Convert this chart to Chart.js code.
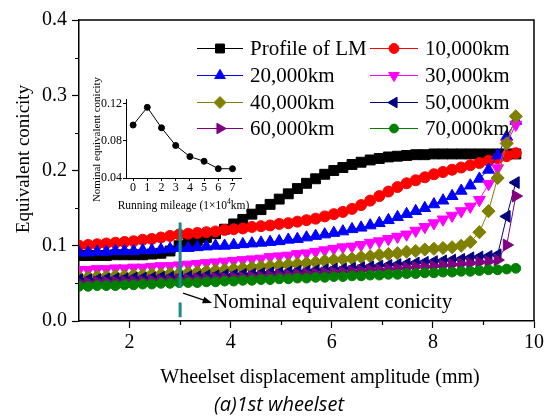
<!DOCTYPE html>
<html>
<head>
<meta charset="utf-8">
<script src="https://cdn.jsdelivr.net/npm/chart.js@4.4.1/dist/chart.umd.min.js"></script>
<style>
  html, body { margin: 0; padding: 0; background: #fff; }
  #wrap { position: relative; width: 547px; height: 416px; }
  #main { position: absolute; left: 0; top: 0; }
  #inset { position: absolute; left: 84px; top: 72px; }
</style>
</head>
<body>
<div id="wrap">
  <canvas id="main" width="547" height="416"></canvas>
  <canvas id="inset" width="166" height="143"></canvas>
</div>
<script>
// wheelset displacement amplitude (mm)
const displacement = [1.00, 1.18, 1.36, 1.54, 1.72, 1.90, 2.08, 2.26, 2.44, 2.62,
  2.80, 2.98, 3.16, 3.34, 3.52, 3.70, 3.88, 4.06, 4.24, 4.42,
  4.60, 4.78, 4.96, 5.14, 5.32, 5.50, 5.68, 5.86, 6.04, 6.22,
  6.40, 6.58, 6.76, 6.94, 7.12, 7.30, 7.48, 7.66, 7.84, 8.02,
  8.20, 8.38, 8.56, 8.74, 8.92, 9.10, 9.28, 9.46, 9.64];

const profileLM = [0.087, 0.087, 0.087, 0.087, 0.088, 0.088, 0.088, 0.088, 0.089, 0.090,
  0.093, 0.100, 0.104, 0.107, 0.111, 0.116, 0.122, 0.129, 0.135, 0.142,
  0.148, 0.155, 0.162, 0.169, 0.176, 0.183, 0.189, 0.195, 0.200, 0.204,
  0.208, 0.211, 0.214, 0.216, 0.218, 0.219, 0.220, 0.221, 0.221, 0.222,
  0.222, 0.222, 0.222, 0.222, 0.222, 0.222, 0.222, 0.222, 0.222];
const km10000 = [0.100, 0.101, 0.102, 0.103, 0.104, 0.105, 0.106, 0.108, 0.109, 0.111,
  0.113, 0.115, 0.116, 0.117, 0.118, 0.119, 0.121, 0.122, 0.123, 0.125,
  0.126, 0.127, 0.129, 0.130, 0.132, 0.134, 0.136, 0.139, 0.142, 0.145,
  0.149, 0.154, 0.160, 0.166, 0.172, 0.178, 0.183, 0.187, 0.191, 0.195,
  0.198, 0.201, 0.204, 0.207, 0.210, 0.213, 0.216, 0.219, 0.223];
const km20000 = [0.091, 0.091, 0.092, 0.092, 0.093, 0.093, 0.093, 0.094, 0.094, 0.095,
  0.096, 0.097, 0.097, 0.098, 0.099, 0.100, 0.100, 0.101, 0.102, 0.103,
  0.104, 0.105, 0.106, 0.108, 0.109, 0.111, 0.113, 0.115, 0.117, 0.119,
  0.122, 0.124, 0.127, 0.130, 0.134, 0.138, 0.142, 0.146, 0.150, 0.155,
  0.160, 0.166, 0.173, 0.180, 0.189, 0.201, 0.220, 0.245, 0.266];
const km30000 = [0.068, 0.068, 0.069, 0.069, 0.070, 0.070, 0.071, 0.071, 0.072, 0.073,
  0.073, 0.074, 0.075, 0.076, 0.077, 0.078, 0.079, 0.080, 0.081, 0.082,
  0.083, 0.085, 0.086, 0.087, 0.089, 0.090, 0.092, 0.094, 0.096, 0.098,
  0.099, 0.101, 0.104, 0.106, 0.109, 0.112, 0.115, 0.120, 0.125, 0.130,
  0.135, 0.140, 0.146, 0.152, 0.161, 0.182, 0.203, 0.236, 0.261];
const km40000 = [0.058, 0.058, 0.059, 0.059, 0.060, 0.060, 0.061, 0.061, 0.062, 0.062,
  0.063, 0.063, 0.064, 0.065, 0.066, 0.067, 0.068, 0.069, 0.070, 0.071,
  0.072, 0.073, 0.074, 0.075, 0.076, 0.077, 0.078, 0.080, 0.081, 0.082,
  0.083, 0.085, 0.086, 0.088, 0.089, 0.090, 0.092, 0.093, 0.095, 0.096,
  0.097, 0.098, 0.100, 0.105, 0.118, 0.146, 0.190, 0.236, 0.272];
const km50000 = [0.055, 0.055, 0.055, 0.056, 0.056, 0.056, 0.057, 0.057, 0.057, 0.058,
  0.058, 0.058, 0.059, 0.059, 0.060, 0.060, 0.061, 0.061, 0.062, 0.062,
  0.063, 0.064, 0.064, 0.065, 0.066, 0.066, 0.067, 0.068, 0.069, 0.069,
  0.070, 0.071, 0.072, 0.073, 0.074, 0.075, 0.076, 0.077, 0.078, 0.079,
  0.080, 0.081, 0.082, 0.084, 0.085, 0.086, 0.088, 0.139, 0.184];
const km60000 = [0.051, 0.051, 0.052, 0.052, 0.052, 0.053, 0.053, 0.053, 0.054, 0.054,
  0.054, 0.055, 0.055, 0.056, 0.056, 0.057, 0.057, 0.058, 0.058, 0.059,
  0.059, 0.060, 0.061, 0.061, 0.062, 0.063, 0.063, 0.064, 0.065, 0.065,
  0.066, 0.067, 0.068, 0.068, 0.069, 0.070, 0.071, 0.072, 0.072, 0.073,
  0.074, 0.075, 0.076, 0.077, 0.078, 0.079, 0.081, 0.101, 0.166];
const km70000 = [0.046, 0.046, 0.047, 0.047, 0.047, 0.048, 0.048, 0.049, 0.049, 0.050,
  0.050, 0.051, 0.051, 0.051, 0.052, 0.052, 0.053, 0.053, 0.054, 0.054,
  0.055, 0.055, 0.056, 0.056, 0.057, 0.057, 0.058, 0.058, 0.059, 0.059,
  0.060, 0.060, 0.061, 0.061, 0.062, 0.062, 0.063, 0.063, 0.064, 0.064,
  0.065, 0.065, 0.066, 0.066, 0.067, 0.068, 0.068, 0.069, 0.070];

const seriesNames = ['Profile of LM', '10,000km', '20,000km', '30,000km',
  '40,000km', '50,000km', '60,000km', '70,000km'];

const xTicks = [2, 4, 6, 8, 10];
const xMinor = [3, 5, 7, 9];
const yTicks = [0.0, 0.1, 0.2, 0.3, 0.4];
const yMinor = [0.05, 0.15, 0.25, 0.35];

// inset: nominal equivalent conicity at 3 mm vs running mileage
const mileage = [0, 1, 2, 3, 4, 5, 6, 7];
const nominal = [0.097, 0.116, 0.094, 0.075, 0.063, 0.058, 0.050, 0.050];
const insetYTicks = [0.04, 0.08, 0.12];

const nominalX = 3;

const FONT = "'Liberation Serif', 'Times New Roman', serif";

const styles = [
  { color: '#000000', pointStyle: 'rect', radius: 7, rotation: 0 },
  { color: '#ff0000', pointStyle: 'circle', radius: 5.5, rotation: 0 },
  { color: '#0000ff', pointStyle: 'triangle', radius: 6.8, rotation: 0 },
  { color: '#ff00ff', pointStyle: 'triangle', radius: 6.8, rotation: 180 },
  { color: '#808000', pointStyle: 'rectRot', radius: 6.6, rotation: 0 },
  { color: '#000080', pointStyle: 'triangle', radius: 6.8, rotation: -90 },
  { color: '#800080', pointStyle: 'triangle', radius: 6.8, rotation: 90 },
  { color: '#008000', pointStyle: 'circle', radius: 4.9, rotation: 0 }
];

const allSeries = [profileLM, km10000, km20000, km30000, km40000, km50000, km60000, km70000];

const datasets = allSeries.map((vals, i) => ({
  label: seriesNames[i],
  data: displacement.map((d, j) => ({ x: d, y: vals[j] })),
  borderColor: styles[i].color,
  backgroundColor: styles[i].color,
  borderWidth: 1,
  pointStyle: styles[i].pointStyle,
  pointRadius: styles[i].radius,
  pointRotation: styles[i].rotation,
  pointBackgroundColor: styles[i].color,
  pointBorderColor: styles[i].color,
  pointBorderWidth: 1,
  tension: 0,
  order: allSeries.length - i
}));

const legendRows = [48, 75, 102, 128];
const legendCols = [
  { from: 197, to: 243, text: 250 },
  { from: 370, to: 418, text: 425 }
];

const decor = {
  id: 'decor',
  afterDraw(chart) {
    const { ctx, chartArea: a, scales: { x, y } } = chart;
    ctx.save();

    // frame top/right
    ctx.strokeStyle = '#000';
    ctx.lineWidth = 1.5;
    ctx.beginPath();
    ctx.moveTo(a.left, a.top);
    ctx.lineTo(a.right, a.top);
    ctx.lineTo(a.right, a.bottom);
    ctx.stroke();

    // minor ticks
    ctx.lineWidth = 1.2;
    ctx.beginPath();
    xMinor.forEach(v => {
      const px = Math.round(x.getPixelForValue(v)) + 0.5;
      ctx.moveTo(px, a.bottom);
      ctx.lineTo(px, a.bottom + 4);
    });
    yMinor.forEach(v => {
      const py = Math.round(y.getPixelForValue(v)) + 0.5;
      ctx.moveTo(a.left, py);
      ctx.lineTo(a.left - 4, py);
    });
    ctx.stroke();

    // nominal position marker
    const nx = x.getPixelForValue(nominalX);
    ctx.strokeStyle = '#1a8a8a';
    ctx.lineWidth = 3;
    ctx.setLineDash([65, 15]);
    ctx.beginPath();
    ctx.moveTo(nx, y.getPixelForValue(0.131));
    ctx.lineTo(nx, y.getPixelForValue(0.005));
    ctx.stroke();
    ctx.setLineDash([]);

    // arrow + note
    const ax0 = nx + 3, ay0 = y.getPixelForValue(0.037);
    const ax1 = nx + 32, ay1 = y.getPixelForValue(0.024);
    ctx.strokeStyle = '#000';
    ctx.fillStyle = '#000';
    ctx.lineWidth = 1.3;
    ctx.beginPath();
    ctx.moveTo(ax0, ay0);
    ctx.lineTo(ax1 - 6, ay1 - 2);
    ctx.stroke();
    const ang = Math.atan2(ay1 - ay0, ax1 - ax0);
    ctx.beginPath();
    ctx.moveTo(ax1, ay1);
    ctx.lineTo(ax1 - 10 * Math.cos(ang - 0.35), ay1 - 10 * Math.sin(ang - 0.35));
    ctx.lineTo(ax1 - 10 * Math.cos(ang + 0.35), ay1 - 10 * Math.sin(ang + 0.35));
    ctx.closePath();
    ctx.fill();
    ctx.font = '21px ' + FONT;
    ctx.textAlign = 'left';
    ctx.textBaseline = 'middle';
    ctx.fillText('Nominal equivalent conicity', ax1 + 1, ay1);

    // legend
    chart.data.datasets.forEach((ds, i) => {
      const col = legendCols[i % 2];
      const ry = legendRows[Math.floor(i / 2)];
      ctx.strokeStyle = ds.borderColor;
      ctx.lineWidth = 1;
      ctx.beginPath();
      ctx.moveTo(col.from, ry + 0.5);
      ctx.lineTo(col.to, ry + 0.5);
      ctx.stroke();
      ctx.fillStyle = ds.pointBackgroundColor;
      Chart.helpers.drawPoint(ctx, {
        pointStyle: ds.pointStyle,
        rotation: ds.pointRotation,
        radius: ds.pointRadius * 0.9,
        borderWidth: 1
      }, (col.from + col.to) / 2, ry + 0.5);
      ctx.fillStyle = '#000';
      ctx.font = '21px ' + FONT;
      ctx.textAlign = 'left';
      ctx.textBaseline = 'middle';
      ctx.fillText(ds.label, col.text, ry + 1);
    });

    // axis titles
    ctx.fillStyle = '#000';
    ctx.textAlign = 'center';
    ctx.textBaseline = 'middle';
    ctx.font = '20px ' + FONT;
    ctx.fillText('Wheelset displacement amplitude (mm)', 320, 378);
    ctx.save();
    ctx.translate(24, 159);
    ctx.rotate(-Math.PI / 2);
    ctx.font = '19px ' + FONT;
    ctx.fillText('Equivalent conicity', 0, 0);
    ctx.restore();

    // caption
    ctx.font = "italic 20px 'Open Sans', 'Noto Sans', sans-serif";
    ctx.fillText('(a)1st wheelset', 279, 405);

    ctx.restore();
  }
};

new Chart(document.getElementById('main'), {
  type: 'line',
  data: { datasets: datasets },
  options: {
    responsive: false,
    animation: false,
    devicePixelRatio: 1,
    layout: { padding: { left: 0, right: 11, top: 20, bottom: 0 } },
    plugins: { legend: { display: false }, tooltip: { enabled: false } },
    scales: {
      x: {
        type: 'linear',
        min: 1,
        max: 10,
        afterBuildTicks: s => { s.ticks = xTicks.map(v => ({ value: v })); },
        afterFit: s => { s.height = 95; },
        ticks: {
          font: { family: FONT, size: 20 },
          color: '#000',
          padding: 3,
          maxRotation: 0,
          autoSkip: false,
          callback: v => String(v)
        },
        grid: { drawOnChartArea: false, tickLength: 7, tickColor: '#000', tickWidth: 1.2 },
        border: { color: '#000', width: 1.5 }
      },
      y: {
        min: 0,
        max: 0.4,
        afterBuildTicks: s => { s.ticks = yTicks.map(v => ({ value: v })); },
        afterFit: s => { s.width = 79; },
        ticks: {
          font: { family: FONT, size: 20 },
          color: '#000',
          padding: 5,
          callback: v => Number(v).toFixed(1)
        },
        grid: { drawOnChartArea: false, tickLength: 7, tickColor: '#000', tickWidth: 1.2 },
        border: { color: '#000', width: 1.5 }
      }
    }
  },
  plugins: [decor]
});

const insetDecor = {
  id: 'insetDecor',
  afterDraw(chart) {
    const { ctx } = chart;
    ctx.save();
    ctx.fillStyle = '#000';
    ctx.textBaseline = 'middle';
    ctx.textAlign = 'center';
    ctx.save();
    ctx.translate(13, 67.5);
    ctx.rotate(-Math.PI / 2);
    ctx.font = '11px ' + FONT;
    ctx.fillText('Nominal equivalent conicity', 0, 0);
    ctx.restore();

    // x title with superscript
    const main1 = 'Running mileage (1\u00d710', sup = '4', main2 = 'km)';
    const f = '11.5px ' + FONT, fs = '7.5px ' + FONT;
    ctx.font = f;
    const w1 = ctx.measureText(main1).width, w3 = ctx.measureText(main2).width;
    ctx.font = fs;
    const w2 = ctx.measureText(sup).width;
    let sx = 99.5 - (w1 + w2 + w3) / 2;
    const sy = 134;
    ctx.textAlign = 'left';
    ctx.font = f;
    ctx.fillText(main1, sx, sy);
    ctx.font = fs;
    ctx.fillText(sup, sx + w1, sy - 4);
    ctx.font = f;
    ctx.fillText(main2, sx + w1 + w2, sy);
    ctx.restore();
  }
};

new Chart(document.getElementById('inset'), {
  type: 'line',
  data: {
    datasets: [{
      data: mileage.map((m, i) => ({ x: m, y: nominal[i] })),
      borderColor: '#000',
      borderWidth: 1,
      pointRadius: 3,
      pointBackgroundColor: '#000',
      pointBorderColor: '#000',
      tension: 0
    }]
  },
  options: {
    responsive: false,
    animation: false,
    devicePixelRatio: 1,
    layout: { padding: { left: 0, right: 9, top: 27, bottom: 0 } },
    plugins: { legend: { display: false }, tooltip: { enabled: false } },
    scales: {
      x: {
        type: 'linear',
        min: -0.5,
        max: 7.6,
        afterBuildTicks: s => { s.ticks = mileage.map(v => ({ value: v })); },
        afterFit: s => { s.height = 37; },
        ticks: { font: { family: FONT, size: 12 }, color: '#000', padding: 0, maxRotation: 0, autoSkip: false },
        grid: { drawOnChartArea: false, tickLength: 3, tickColor: '#000' },
        border: { color: '#000', width: 1 }
      },
      y: {
        min: 0.04,
        max: 0.125,
        afterBuildTicks: s => { s.ticks = insetYTicks.map(v => ({ value: v })); },
        afterFit: s => { s.width = 42; },
        ticks: { font: { family: FONT, size: 12 }, color: '#000', padding: 1, callback: v => Number(v).toFixed(2) },
        grid: { drawOnChartArea: false, tickLength: 3, tickColor: '#000' },
        border: { color: '#000', width: 1 }
      }
    }
  },
  plugins: [insetDecor]
});
</script>
</body>
</html>
